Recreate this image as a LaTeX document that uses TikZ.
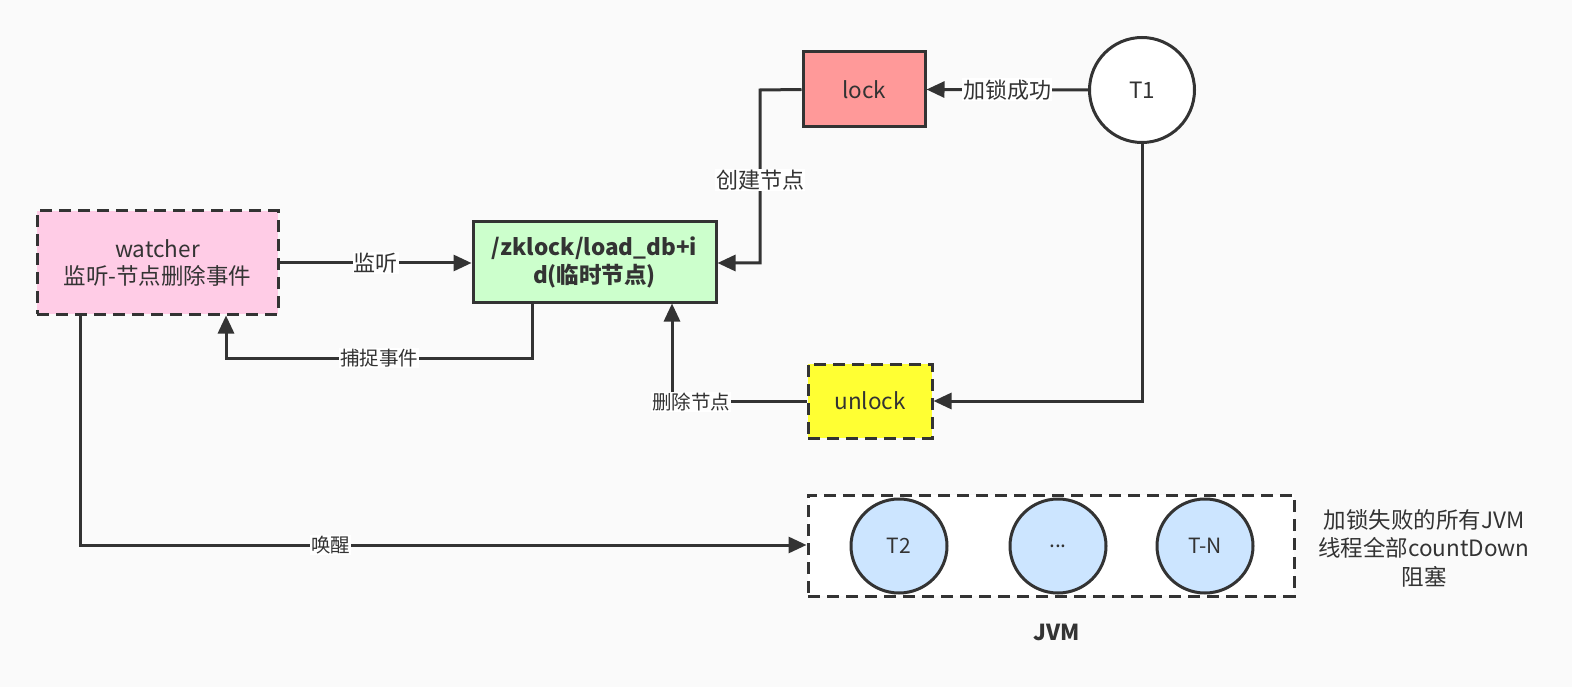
\documentclass[tikz,border=0pt]{standalone}
\usepackage{fontspec}
\setmainfont{Noto Sans CJK SC}
\usetikzlibrary{arrows.meta,shapes.geometric}
\definecolor{ink}{HTML}{333333}
\definecolor{bg}{HTML}{FAFAFA}
\definecolor{pinkf}{HTML}{FFCCE6}
\definecolor{greenf}{HTML}{CCFFCC}
\definecolor{redf}{HTML}{FF9999}
\definecolor{yellowf}{HTML}{FFFF33}
\definecolor{bluef}{HTML}{CCE5FF}
\tikzset{
  box/.style={draw=ink, line width=3pt, text=ink, font=\fontsize{22.5}{27}\selectfont, align=center, inner sep=0pt},
  dbox/.style={box, dash pattern=on 12pt off 7pt},
  conn/.style={draw=ink, line width=3pt, -{Triangle[length=18pt,width=16pt]}},
  line/.style={draw=ink, line width=3pt},
  elab/.style={fill=white, text=ink, font=\fontsize{22}{26}\selectfont, inner sep=1pt},
  slab/.style={fill=white, text=ink, font=\fontsize{19.5}{23}\selectfont, inner sep=1pt},
  thread/.style={draw=ink, line width=3pt, ellipse, fill=bluef, text=ink, font=\fontsize{21}{25}\selectfont, minimum width=96pt, minimum height=94pt, inner sep=0pt}
}
\begin{document}
\begin{tikzpicture}[x=1pt,y=-1pt]
\fill[bg] (0,0) rectangle (1572,687);
\useasboundingbox (0,0) rectangle (1572,687);

\node[dbox, fill=pinkf, minimum width=241pt, minimum height=103pt] (watcher) at (157.5,262.5) {watcher\\监听-节点删除事件};
\node[box, fill=greenf, minimum width=243pt, minimum height=80pt, font=\bfseries\fontsize{22.5}{28}\selectfont] (zk) at (594.5,262) {/zklock/load\_db+i\\d(临时节点)};
\node[box, fill=redf, minimum width=122pt, minimum height=75pt] (lock) at (864,89.5) {lock};
\node[box, circle, fill=white, minimum size=105pt] (t1) at (1142,90) {T1};
\node[dbox, fill=yellowf, minimum width=124pt, minimum height=74pt] (unlock) at (870,401) {unlock};
\node[dbox, fill=white, minimum width=486pt, minimum height=101pt] (jvm) at (1051,545.5) {};
\node[thread] (t2) at (899,546) {T2};
\node[thread] (dots) at (1058,546) {...};
\node[thread] (tn) at (1205,546) {T-N};
\node[text=ink, font=\bfseries\fontsize{22}{26}\selectfont] (jvml) at (1057,632) {JVM};
\node[text=ink, font=\fontsize{22.5}{28.5}\selectfont, align=center] (note) at (1424,548) {加锁失败的所有JVM\\线程全部countDown\\阻塞};

% watcher -> zk
\draw[conn] (watcher.east |- 0,263) -- (zk.west |- 0,263) node[elab, midway] {监听};
% zk -> watcher (capture event)
\draw[conn] (zk.south -| 532,0) -- (532,358) -- (226,358) node[slab, pos=0.5] {捕捉事件} -- (watcher.south -| 226,0);
% lock -> zk (create node)
\coordinate (c1) at (760,90);
\coordinate (c2) at (760,263);
\draw[conn] (lock.west) -- (c1) -- (c2) -- (zk.east |- 0,263);
\node[elab] at (760,180) {创建节点};
% T1 -> lock
\draw[conn] (t1.west) -- (lock.east) node[elab, midway] {加锁成功};
% T1 -> unlock
\draw[conn] (t1.south) -- (1142,401) -- (unlock.east);
% unlock -> zk (delete node)
\draw[conn] (unlock.west) -- (672,401) -- (zk.south -| 672,0);
\node[slab] at (691,402) {删除节点};
% watcher -> jvm (wake)
\draw[conn] (watcher.south -| 80,0) -- (80,545) -- (jvm.west |- 0,545) node[slab, pos=0.345] {唤醒};
\end{tikzpicture}
\end{document}
